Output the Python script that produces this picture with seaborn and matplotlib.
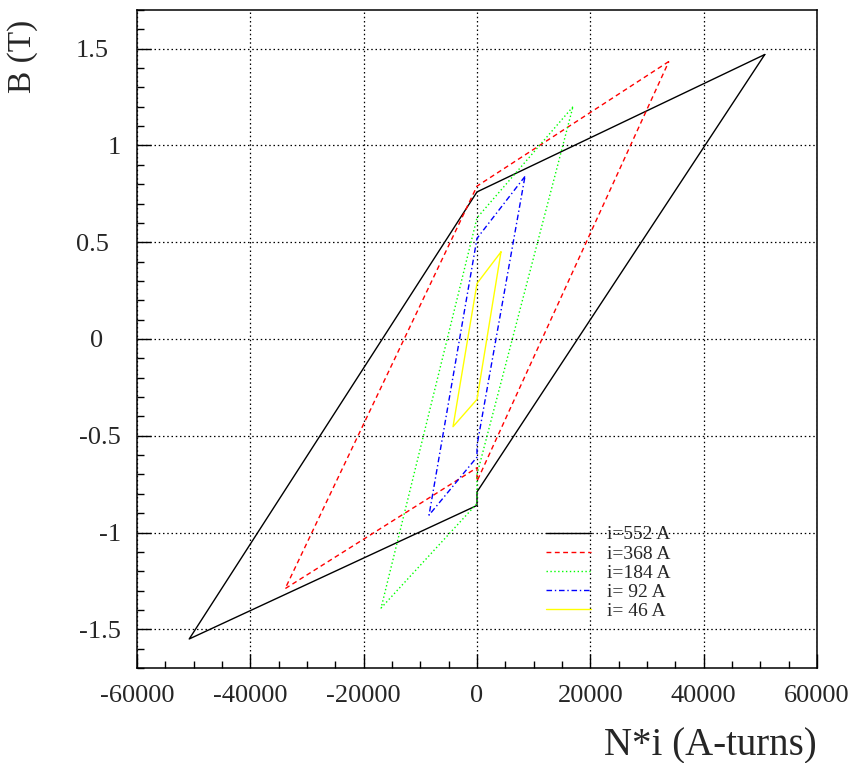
import numpy as np
import pandas as pd
import matplotlib
matplotlib.use("Agg")
import matplotlib.pyplot as plt
import matplotlib.transforms as mtransforms
import seaborn as sns

# ---- data (N*i in A-turns, B in T) ----
x552 = [50784, 0, -50784, 0, 0, 50784]
y552 = [1.47, 0.76, -1.55, -0.86, -0.79, 1.47]

x368 = [33856, 0, -33856, 0, 0, 33856]
y368 = [1.434, 0.79, -1.29, -0.665, -0.735, 1.434]

x184 = [16928, 0, -16928, 0, 0, 16928]
y184 = [1.20, 0.626, -1.39, -0.85, -0.70, 1.20]

x92 = [8464, 0, -8464, 0, 0, 8464]
y92 = [0.84, 0.52, -0.91, -0.61, -0.55, 0.84]

x46 = [4232, 0, -4232, 0, 4232]
y46 = [0.45, 0.287, -0.453, -0.312, 0.45]

labels = ["i=552 A", "i=368 A", "i=184 A", "i= 92 A", "i= 46 A"]
xticks = [-60000, -40000, -20000, 0, 20000, 40000, 60000]
yticks = [-1.5, -1, -0.5, 0, 0.5, 1, 1.5]
ytick_labels = ["-1.5", "-1", "-0.5", "0", "0.5", "1", "1.5"]

sns.set_theme(style="white")
plt.rcParams["font.family"] = ["Liberation Serif", "DejaVu Serif"]
plt.rcParams["axes.unicode_minus"] = False

fig = plt.figure(figsize=(8.56, 7.63), dpi=100)
ax = fig.add_axes([137 / 856, 1 - 668 / 763, 680 / 856, 658 / 763])

series = [
    (x552, y552, "black", "-"),
    (x368, y368, "#ff0000", (0, (3.5, 2.5))),
    (x184, y184, "#00ff00", (0, (1.0, 1.8))),
    (x92, y92, "#0000ff", (0, (4.0, 2.0, 1.0, 2.0))),
    (x46, y46, "#ffff00", "-"),
]
for (xs, ys, c, ls), lab in zip(series, labels):
    df = pd.DataFrame({"x": xs, "y": ys})
    sns.lineplot(data=df, x="x", y="y", sort=False, estimator=None, ax=ax,
                 color=c, linestyle=ls, linewidth=1.0, label=lab)

ax.set_xlim(-60000, 60000)
ax.set_ylim(-1.7, 1.7)
ax.set_xticks(xticks)
ax.set_xticklabels([str(v) for v in xticks])
ax.set_yticks(yticks)
ax.set_yticklabels(ytick_labels)
ax.xaxis.set_minor_locator(matplotlib.ticker.MultipleLocator(5000))
ax.yaxis.set_minor_locator(matplotlib.ticker.MultipleLocator(0.1))
ax.tick_params(which="both", direction="in", bottom=True, left=True,
               top=False, right=False, color="black", labelsize=19)
ax.tick_params(which="major", length=10, width=1.0)
ax.tick_params(which="minor", length=5, width=1.0)
ax.tick_params(axis="x", which="major", pad=12.5)
ax.tick_params(axis="y", which="major", pad=11.5)
ax.grid(True, which="major", color="black", linestyle=(0, (1.2, 2.2)), linewidth=0.9)

# ROOT-style placement quirk of some y labels (shifted left)
shift_px = {"1.5": -12, "0.5": -12, "0": -18}
for lbl in ax.get_yticklabels():
    s = lbl.get_text()
    if s in shift_px:
        off = mtransforms.ScaledTranslation(shift_px[s] / 100.0, 0, fig.dpi_scale_trans)
        lbl.set_transform(lbl.get_transform() + off)

for sp in ax.spines.values():
    sp.set_color("black")
    sp.set_linewidth(1.1)

ax.set_xlabel("N*i (A-turns)", fontsize=28, loc="right")
ax.set_ylabel("B (T)", fontsize=24, loc="top")
ax.xaxis.set_label_coords(1.0, -0.09)
ax.yaxis.set_label_coords(-0.146, 0.985)

leg = ax.legend(loc="upper left", bbox_to_anchor=(0.6015, 0.216), frameon=False,
                fontsize=14, handlelength=2.3, handletextpad=0.85,
                labelspacing=0.08, borderpad=0, borderaxespad=0)

fig.savefig("out.png", dpi=100)
